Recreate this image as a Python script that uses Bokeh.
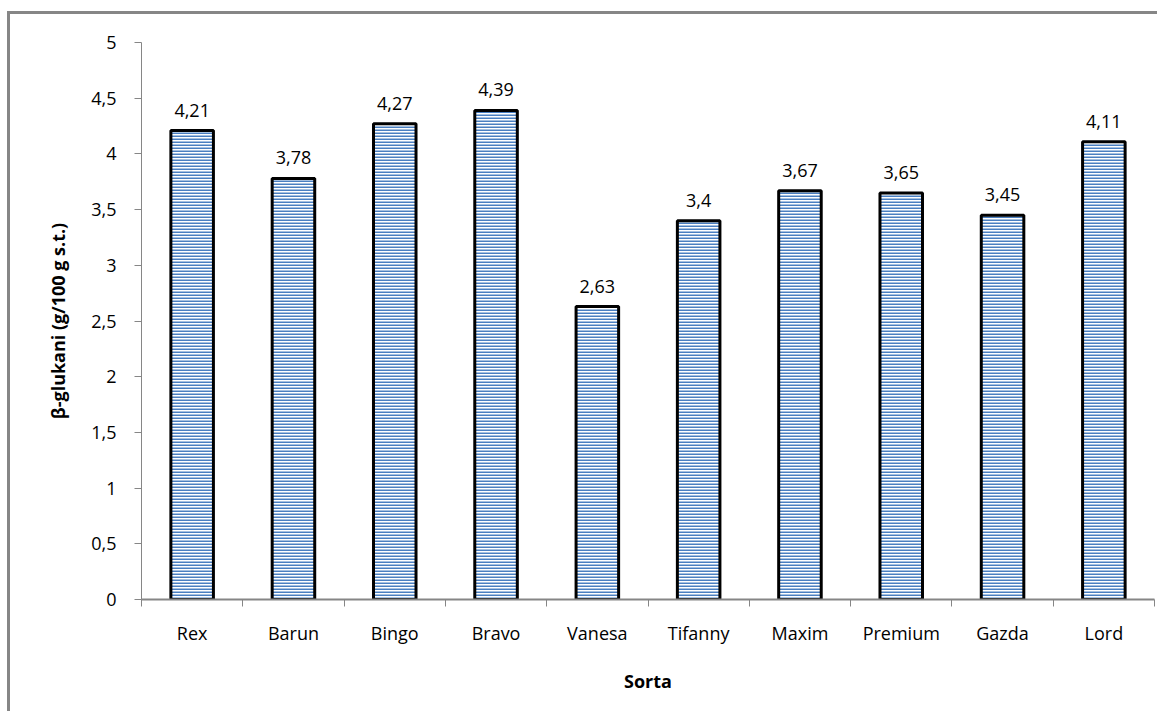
from bokeh.plotting import figure
from bokeh.models import FixedTicker, Range1d, ColumnDataSource
from bokeh.core.properties import value
from bokeh.embed import file_html
from bokeh.resources import INLINE

categories = ["Rex", "Barun", "Bingo", "Bravo", "Vanesa", "Tifanny", "Maxim", "Premium", "Gazda", "Lord"]
values = [4.21, 3.78, 4.27, 4.39, 2.63, 3.40, 3.67, 3.65, 3.45, 4.11]
y_ticks = [0, 0.5, 1, 1.5, 2, 2.5, 3, 3.5, 4, 4.5, 5]
y_tick_labels = ["0", "0,5", "1", "1,5", "2", "2,5", "3", "3,5", "4", "4,5", "5"]
value_labels = ["4,21", "3,78", "4,27", "4,39", "2,63", "3,4", "3,67", "3,65", "3,45", "4,11"]

FONT = "Open Sans"
GRAY = "#868686"

xs = [i + 0.5 for i in range(len(categories))]
src = ColumnDataSource(dict(x=xs, top=values, lab=value_labels))

p = figure(width=1150, height=700, output_backend="svg", toolbar_location=None,
           x_range=Range1d(0, len(categories)), y_range=Range1d(0, 5),
           min_border_left=131, min_border_top=28, min_border_right=6, min_border_bottom=115)
p.styles = {"border-top": f"3px solid {GRAY}", "border-left": f"3px solid {GRAY}",
            "margin-left": "7px", "margin-top": "11px"}
p.outline_line_color = None
p.xgrid.visible = False
p.ygrid.visible = False

p.vbar(x="x", top="top", width=0.42, source=src, fill_color="white",
       line_color="black", line_width=3, hatch_pattern="horizontal_line",
       hatch_color="#4a7fc1", hatch_scale=3, hatch_weight=2)

p.text(x="x", y="top", text="lab", source=src, text_align="center", text_baseline="bottom",
       y_offset=-14, text_font=value(FONT), text_font_size="18px", text_color="black")

# x axis
xa = p.xaxis[0]
xa.ticker = FixedTicker(ticks=xs, minor_ticks=list(range(len(categories) + 1)))
xa.major_label_overrides = {x: c for x, c in zip(xs, categories)}
xa.major_tick_out = 0
xa.major_tick_in = 0
xa.minor_tick_out = 7
xa.minor_tick_in = 0
xa.minor_tick_line_color = GRAY
xa.axis_line_color = GRAY
xa.axis_line_width = 2
xa.major_label_standoff = 14
xa.major_label_text_font = FONT
xa.major_label_text_font_size = "18px"
xa.major_label_text_color = "black"
xa.axis_label = "Sorta"
xa.axis_label_text_font = FONT
xa.axis_label_text_font_size = "18px"
xa.axis_label_text_font_style = "bold"
xa.axis_label_text_color = "black"
xa.axis_label_standoff = 21

ya = p.yaxis[0]
ya.ticker = FixedTicker(ticks=y_ticks, minor_ticks=[])
ya.major_label_overrides = {t: l for t, l in zip(y_ticks, y_tick_labels)}
ya.major_tick_out = 7
ya.major_tick_in = 0
ya.major_tick_line_color = GRAY
ya.axis_line_color = GRAY
ya.axis_line_width = 1
ya.major_label_standoff = 18
ya.major_label_text_font = FONT
ya.major_label_text_font_size = "18px"
ya.major_label_text_color = "black"
ya.axis_label = "β-glukani (g/100 g s.t.)"
ya.axis_label_text_font = FONT
ya.axis_label_text_font_size = "18px"
ya.axis_label_text_font_style = "bold"
ya.axis_label_text_color = "black"
ya.axis_label_standoff = 18

open("out.html", "w").write(file_html(p, INLINE))
